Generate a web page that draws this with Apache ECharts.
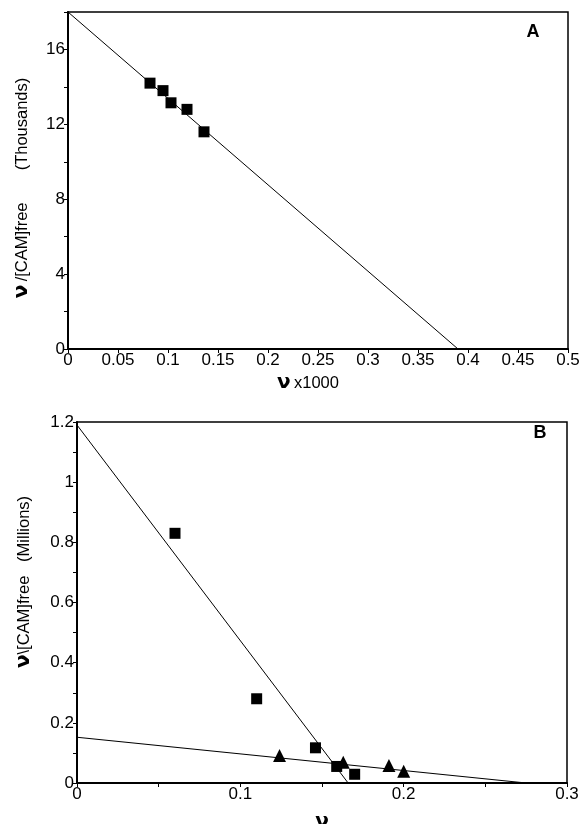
<!DOCTYPE html>
<html><head><meta charset="utf-8">
<script src="https://cdn.jsdelivr.net/npm/echarts@6/dist/echarts.min.js"></script>
<style>html,body{margin:0;padding:0;background:#fff}#c{width:581px;height:824px}</style>
</head><body><div id="c"></div>
<script>
// Panel A data
const aSquaresX = [0.082, 0.095, 0.103, 0.119, 0.136];
const aSquaresY = [14.2, 13.8, 13.15, 12.8, 11.6];
const aLineX = [0, 0.39];
const aLineY = [18, 0];
// Panel B data
const bSquaresX = [0.060, 0.110, 0.146, 0.159, 0.170];
const bSquaresY = [0.83, 0.28, 0.117, 0.055, 0.029];
const bTriX = [0.124, 0.163, 0.191, 0.200];
const bTriY = [0.091, 0.069, 0.058, 0.039];
const bLine1X = [0, 0.166];
const bLine1Y = [1.19, 0];
const bLine2X = [0, 0.275];
const bLine2Y = [0.152, 0];

const zip = (xs, ys) => xs.map((x, i) => [x, ys[i]]);
const font = 'Liberation Sans, Arial, sans-serif';
const rich = {
  nu: {fontSize: 20, fontWeight: 'bold', fontFamily: 'DejaVu Sans, sans-serif', fill: '#000', color: '#000'},
  t: {fontSize: 16.5, fontFamily: font, fill: '#000', color: '#000'}
};
const axisCommon = {
  axisLine: {show: true, onZero: false, lineStyle: {color: '#000', width: 2}},
  axisTick: {show: true, inside: false, length: 4, lineStyle: {color: '#000', width: 1}},
  splitLine: {show: false},
  axisLabel: {color: '#000', fontSize: 17, fontFamily: font, margin: 3},
  nameTextStyle: {color: '#000', fontSize: 16, fontFamily: font, rich: rich}
};
const chart = echarts.init(document.getElementById('c'));
chart.setOption({
  animation: false,
  backgroundColor: '#fff',
  grid: [
    {left: 68, top: 12, right: 13, bottom: 475, show: true, borderColor: '#000', borderWidth: 1.5,
      containLabel: false, outerBoundsMode: 'none'},
    {left: 77, top: 422, right: 14, bottom: 41, show: true, borderColor: '#000', borderWidth: 1.5,
      containLabel: false, outerBoundsMode: 'none'}
  ],
  graphic: [
    {type: 'text', x: 533, y: 32, style: {text: 'A', fontSize: 18, fontWeight: 'bold', fontFamily: font, fill: '#000', align: 'center', verticalAlign: 'middle'}},
    {type: 'text', x: 540, y: 433, style: {text: 'B', fontSize: 18, fontWeight: 'bold', fontFamily: font, fill: '#000', align: 'center', verticalAlign: 'middle'}},
    {type: 'text', x: 22, y: 188, rotation: Math.PI / 2,
      style: {text: '{nu|ν} {t|/[CAM]free       (Thousands)}', rich: rich, align: 'center', verticalAlign: 'middle'}},
    {type: 'text', x: 24, y: 582, rotation: Math.PI / 2,
      style: {text: '{nu|ν}{t|\\[CAM]free   (Millions)}', rich: rich, align: 'center', verticalAlign: 'middle'}},
    {type: 'text', x: 308, y: 383,
      style: {text: '{nu|ν} {t|x1000}', rich: rich, align: 'center', verticalAlign: 'middle'}}
  ],
  xAxis: [
    Object.assign({}, axisCommon, {gridIndex: 0, type: 'value', min: 0, max: 0.5, interval: 0.05}),
    Object.assign({}, axisCommon, {gridIndex: 1, type: 'value', min: 0, max: 0.3, interval: 0.05,
      name: '{nu|ν}', nameLocation: 'middle', nameGap: 29,
      axisLabel: Object.assign({}, axisCommon.axisLabel, {
        formatter: v => (Math.abs(v * 10 - Math.round(v * 10)) < 1e-6) ? String(Math.round(v * 10) / 10) : ''
      })})
  ],
  yAxis: [
    Object.assign({}, axisCommon, {gridIndex: 0, type: 'value', min: 0, max: 18, interval: 2,
      axisLabel: Object.assign({}, axisCommon.axisLabel, {formatter: v => (v % 4 === 0 && v < 18) ? String(v) : ''})}),
    Object.assign({}, axisCommon, {gridIndex: 1, type: 'value', min: 0, max: 1.2, interval: 0.1,
      axisLabel: Object.assign({}, axisCommon.axisLabel, {
        formatter: v => { const k = Math.round(v * 10); return (k % 2 === 0) ? String(k / 10) : ''; }
      })})
  ],
  series: [
    {type: 'line', xAxisIndex: 0, yAxisIndex: 0, data: zip(aLineX, aLineY), symbol: 'none',
      lineStyle: {color: '#000', width: 1}, z: 2},
    {type: 'scatter', xAxisIndex: 0, yAxisIndex: 0, data: zip(aSquaresX, aSquaresY), symbol: 'rect',
      symbolSize: 11, itemStyle: {color: '#000', opacity: 1}, z: 3},
    {type: 'line', xAxisIndex: 1, yAxisIndex: 1, data: zip(bLine1X, bLine1Y), symbol: 'none',
      lineStyle: {color: '#000', width: 1}, z: 2},
    {type: 'line', xAxisIndex: 1, yAxisIndex: 1, data: zip(bLine2X, bLine2Y), symbol: 'none',
      lineStyle: {color: '#000', width: 1.2}, z: 2},
    {type: 'scatter', xAxisIndex: 1, yAxisIndex: 1, data: zip(bSquaresX, bSquaresY), symbol: 'rect',
      symbolSize: 11, itemStyle: {color: '#000', opacity: 1}, z: 3},
    {type: 'scatter', xAxisIndex: 1, yAxisIndex: 1, data: zip(bTriX, bTriY), symbol: 'triangle',
      symbolSize: 13, itemStyle: {color: '#000', opacity: 1}, z: 3}
  ]
});
</script></body></html>
